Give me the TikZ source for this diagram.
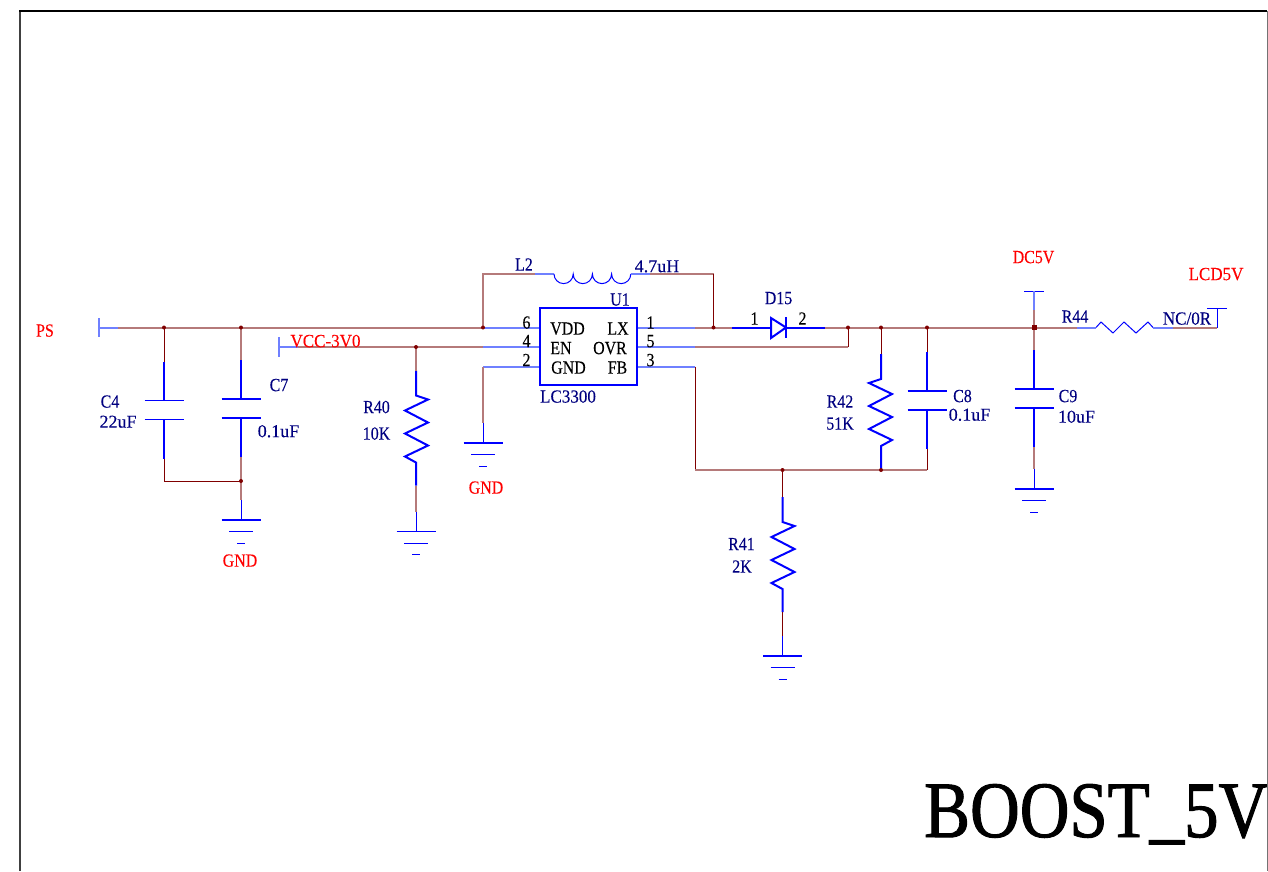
\documentclass[tikz,border=0pt]{standalone}
\usepackage{fontspec}
\setmainfont{Liberation Serif}
\newfontfamily\capfam[FakeStretch=0.86,FakeBold=0.1]{Liberation Serif}
\newfontfamily\midfam[FakeStretch=0.92,FakeBold=0.1]{Liberation Serif}
\newfontfamily\valfam[FakeBold=0.1]{Liberation Serif}
\newfontfamily\titlefam[FakeStretch=0.86,FakeBold=1.2]{Liberation Serif}
\definecolor{wirered}{HTML}{800000}
\definecolor{wirelight}{HTML}{B57A7A}
\definecolor{pinblue}{HTML}{0000FF}
\definecolor{pinlight}{HTML}{6F80FF}
\definecolor{labnavy}{HTML}{000080}
\tikzset{
  wire/.style={draw=wirered,line width=1pt},
  hwire/.style={draw=wirelight,line width=2pt},
  thinblue/.style={draw=pinblue,line width=1pt},
  hblue/.style={draw=pinlight,line width=2pt},
  thickblue/.style={draw=pinblue,line width=2pt},
  lbl/.style={inner sep=0pt,font=\fontsize{18.5}{19}\selectfont\capfam,text height=12.2pt,text depth=0pt},
  navy/.style={lbl,text=labnavy},
  navyval/.style={navy,font=\fontsize{18}{19}\selectfont\valfam},
  navymid/.style={navy,font=\fontsize{18.5}{19}\selectfont\midfam},
  netred/.style={lbl,text=red},
  netmid/.style={netred,font=\fontsize{18.5}{19}\selectfont\midfam},
  blk/.style={lbl,text=black},
}
% vertical capacitor: origin at upper plate
\newcommand{\capvert}[3]{\begin{scope}[shift={(#2,#3)}]
  \coordinate (#1-t) at (0,-39);
  \coordinate (#1-b) at (0,58);
  \draw[thickblue] (#1-t) -- (0,0);
  \draw[thickblue] (0,19) -- (#1-b);
  \draw[thinblue,line width=1.3pt] (-19.5,0) -- (19.5,0);
  \draw[thinblue,line width=1.3pt] (-19.5,19) -- (19.5,19);
\end{scope}}
% vertical resistor: origin at top of zigzag; #4 = +1 or -1 mirror
\newcommand{\resvert}[4]{\begin{scope}[shift={(#2,#3)},xscale=#4]
  \coordinate (#1-t) at (0,-25);
  \coordinate (#1-b) at (0,90);
  \draw[thickblue,line join=miter] (#1-t) -- (0,0) -- (12,4) -- (-11,15) -- (12,27) -- (-11,38) -- (12,50) -- (-11,61) -- (0,67) -- (#1-b);
\end{scope}}
% ground symbol: origin at upper bar
\newcommand{\gndsym}[3]{\begin{scope}[shift={(#2,#3)}]
  \coordinate (#1-t) at (0,-20);
  \draw[thinblue] (#1-t) -- (0,0);
  \draw[thinblue,line width=1.3pt] (-19.5,0) -- (19.5,0);
  \draw[thinblue] (-12,11.5) -- (12,11.5);
  \draw[thinblue] (-4,23) -- (4,23);
\end{scope}}
\begin{document}
\begin{tikzpicture}[x=1pt,y=-1pt]
\useasboundingbox (0,0) rectangle (1268,871);
\fill[white] (0,0) rectangle (1268,871);

% named points
\coordinate (j1) at (164,327.5);
\coordinate (j2) at (241,327.5);
\coordinate (j3) at (483,327.5);
\coordinate (j4) at (416,347);
\coordinate (j5) at (241,481);
\coordinate (j6) at (713.5,327.5);
\coordinate (j7) at (848,327.5);
\coordinate (j8) at (881,327.5);
\coordinate (j9) at (927,327.5);
\coordinate (j10) at (1034,327.5);
\coordinate (j11) at (782.5,470);
\coordinate (j12) at (881,470);

% U1 pins
\foreach \n/\y in {6/327.5,4/347,2/366.5}{\coordinate (pL\n) at (483,\y);\coordinate (uL\n) at (540,\y);}
\foreach \n/\y in {1/327.5,5/347,3/366.5}{\coordinate (pR\n) at (695,\y);\coordinate (uR\n) at (637,\y);}
\draw[hblue] (uL6) -- (pL6);
\draw[hblue] (uL4) -- (pL4);
\draw[hblue] (uL2) -- (pL2);
\draw[hblue] (uR1) -- (pR1);
\draw[hblue] (uR5) -- (pR5);
\draw[hblue] (uR3) -- (pR3);
\node[draw=pinblue,line width=1.3pt,fill=white,minimum width=97pt,minimum height=77pt,inner sep=0pt] (U1) at (588.5,346.5) {};

% PS stub
\coordinate (psbar) at (99,327.5);
\coordinate (pse) at (118,327.5);
\draw[hblue] (99,318) -- (99,337);
\draw[hblue] (psbar) -- (pse);
\draw[hwire] (pse) -- (j1) -- (j2) -- (j3);
% VCC stub
\coordinate (vbar) at (279,347);
\coordinate (ve) at (298,347);
\draw[hblue] (279,337) -- (279,356.5);
\draw[hblue] (vbar) -- (ve);
\draw[hwire] (ve) -- (j4) -- (pL4);

% C4 C7
\capvert{C4}{164}{400.5}
\capvert{C7}{241}{399}
\draw[wire] (j1) -- (C4-t);
\draw[hwire] (j2) -- (C7-t);
\coordinate (c4c) at (164,481);
\draw[wire] (C4-b) -- (c4c) -- (j5);
\draw[hwire] (C7-b) -- (j5);
\gndsym{G1}{241}{520}
\draw[hwire] (j5) -- (G1-t);

% R40
\resvert{R40}{416}{395.5}{1}
\draw[hwire] (j4) -- (R40-t);
\gndsym{G2}{416}{531.5}
\draw[hwire] (R40-b) -- (G2-t);

% L2
\coordinate (lA) at (535,274);
\coordinate (lB) at (650,274);
\coordinate (lc1) at (483,274);
\coordinate (lc2) at (713.5,274);
\draw[hwire] (j3) -- (lc1) -- (lA);
\draw[hblue] (lA) -- (554,274);
\draw[thinblue] (554,274) arc (180:0:9.6) arc (180:0:9.6) arc (180:0:9.6) arc (180:0:9.6);
\draw[hblue] (631,274) -- (lB);
\draw[hwire] (lB) -- (lc2);
\draw[wire] (lc2) -- (j6);

% U1 GND pin
\gndsym{G3}{483}{443}
\draw[hwire] (pL2) -- (G3-t);

% LX to diode
\coordinate (dA) at (732,327.5);
\coordinate (dK) at (825,327.5);
\draw[hwire] (pR1) -- (j6) -- (dA);
\draw[thickblue] (dA) -- (771,327.5);
\draw[thickblue,fill=white] (771,318) -- (786,327.5) -- (771,338) -- cycle;
\draw[thickblue] (786,317) -- (786,338);
\draw[thickblue] (786,327.5) -- (dK);
\draw[hwire] (dK) -- (j7) -- (j8) -- (j9) -- (j10);
% OVR
\coordinate (ovr) at (848,347);
\draw[hwire] (pR5) -- (ovr);
\draw[wire] (ovr) -- (j7);
% FB
\coordinate (fbc) at (695,470);
\draw[wire] (pR3) -- (fbc);
\draw[hwire] (fbc) -- (j11) -- (j12);

% R41
\resvert{R41}{782.5}{522}{1}
\draw[wire] (j11) -- (R41-t);
\gndsym{G4}{782.5}{656}
\draw[wire] (R41-b) -- (G4-t);

% R42
\resvert{R42}{881}{379}{-1}
\draw[wire] (j8) -- (R42-t);
\draw[thickblue] (R42-b) -- (j12);

% C8
\capvert{C8}{927}{391}
\draw[wire] (j9) -- (C8-t);
\coordinate (c8c) at (927,470);
\draw[wire] (C8-b) -- (c8c);
\draw[hwire] (c8c) -- (j12);

% C9 + DC5V
\capvert{C9}{1034}{389}
\draw[hwire] (j10) -- (C9-t);
\gndsym{G5}{1034}{489}
\draw[hwire] (C9-b) -- (G5-t);
\coordinate (dcbar) at (1034,291);
\coordinate (dce) at (1034,310);
\draw[thinblue] (1024,291) -- (1044,291);
\draw[hblue] (dcbar) -- (dce);
\draw[hwire] (dce) -- (j10);

% R44
\coordinate (r44a) at (1077,327.5);
\coordinate (r44b) at (1173,327.5);
\coordinate (lcdc) at (1217,327.5);
\coordinate (lcdt) at (1217,308);
\draw[hwire] (j10) -- (r44a);
\draw[hblue] (r44a) -- (1096,327.5);
\draw[thinblue] (1096,327.5) -- (1101,322) -- (1113,333) -- (1124,322) -- (1136,333) -- (1148,322) -- (1153,327.5);
\draw[hblue] (1153,327.5) -- (r44b);
\draw[hwire] (r44b) -- (lcdc);
\draw[thinblue] (lcdc) -- (lcdt);
\draw[thinblue] (1207,308) -- (1227,308);

% junction dots
\foreach \p in {j1,j2,j3,j4,j5,j6,j7,j8,j9,j11,j12}{\fill[wirered] (\p) circle (2pt);}
\fill[wirered] (1031.5,325) rectangle (1036.5,330);

% net labels
\node[netred] (tPS) at (45,330.5) {PS};
\node[netmid] (tVCC) at (325.5,341) {VCC-3V0};
\node[netred] (tG1) at (240,560.5) {GND};
\node[netred] (tG3) at (486,487.5) {GND};
\node[netred] (tDC) at (1033.5,257) {DC5V};
\node[netmid] (tLCD) at (1216,274) {LCD5V};
% component labels
\node[navy] (tC4) at (110,401.5) {C4};
\node[navyval] (tC4v) at (118,421.5) {22uF};
\node[navy] (tC7) at (279,385) {C7};
\node[navyval] (tC7v) at (278.5,431) {0.1uF};
\node[navy] (tR40) at (376.5,407) {R40};
\node[navy] (tR40v) at (376.5,433.5) {10K};
\node[navy] (tR42) at (840,401.5) {R42};
\node[navy] (tR42v) at (840,423.5) {51K};
\node[navy] (tC8) at (962.5,396) {C8};
\node[navyval] (tC8v) at (969.5,414.5) {0.1uF};
\node[navy] (tC9) at (1068,396) {C9};
\node[navyval] (tC9v) at (1076.5,416.5) {10uF};
\node[navy] (tR41) at (741.5,544) {R41};
\node[navy] (tR41v) at (742,566.5) {2K};
\node[navy] (tR44) at (1075,316.5) {R44};
\node[navymid] (tR44v) at (1187,318.5) {NC/0R};
\node[navy] (tL2) at (524,264.5) {L2};
\node[navyval] (tL2v) at (657,266) {4.7uH};
\node[navy] (tU1) at (620,299.5) {U1};
\node[navy] (tD15) at (778.5,298) {D15};
\node[navymid] (tLC) at (568,396.5) {LC3300};
% pin numbers and names
\node[blk] (n6) at (526.5,322.5) {6};
\node[blk] (n4) at (526.5,341) {4};
\node[blk] (n2) at (526.5,360) {2};
\node[blk] (n1) at (650.5,322.5) {1};
\node[blk] (n5) at (650.5,341) {5};
\node[blk] (n3) at (650.5,360) {3};
\node[blk] (nd1) at (754.5,318.5) {1};
\node[blk] (nd2) at (802.5,318.5) {2};
\node[blk] (tVDD) at (567.5,328.5) {VDD};
\node[blk] (tEN) at (561,348) {EN};
\node[blk] (tGND) at (568.5,367.5) {GND};
\node[blk] (tLX) at (618,328.5) {LX};
\node[blk] (tOVR) at (610,348) {OVR};
\node[blk] (tFB) at (617.5,367.5) {FB};
% title
\node[inner sep=0pt,anchor=base west,font=\fontsize{80}{82}\selectfont\titlefam,text=black] (title) at (924,837) {BOOST\raisebox{3pt}{\_}5V};
% frame
\coordinate (fbl) at (20.3,871);
\coordinate (ftl) at (20.3,11);
\coordinate (ftr) at (1267,11);
\coordinate (fbr) at (1267,871);
\draw[draw=black!75,line width=2pt] (fbl) -- (ftl);
\draw[black,line width=2pt] (19.3,11) -- (ftr);
\draw[draw=black!55,line width=1pt] (ftr) -- (fbr);
\end{tikzpicture}
\end{document}
